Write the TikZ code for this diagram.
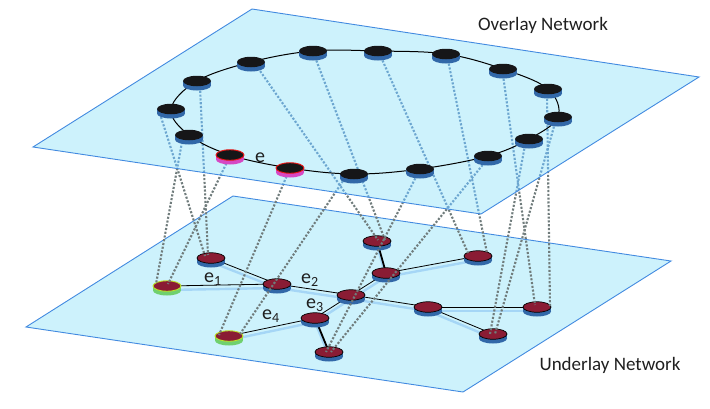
\documentclass[tikz,border=0pt]{standalone}
\usepackage{fontspec}
\setmainfont{Carlito}
\usetikzlibrary{shapes.geometric,calc}
\definecolor{planefill}{RGB}{205,242,252}
\definecolor{planeedge}{RGB}{66,138,224}
\definecolor{linkgray}{RGB}{112,124,124}
\definecolor{linkblue}{RGB}{108,166,208}
\definecolor{topblack}{RGB}{22,22,24}
\definecolor{sideblue}{RGB}{50,104,168}
\definecolor{maroon}{RGB}{138,28,52}
\definecolor{sidemag}{RGB}{214,72,196}
\definecolor{ringred}{RGB}{235,20,20}
\definecolor{sidegreen}{RGB}{112,208,110}
\definecolor{ringgreen}{RGB}{186,228,40}
\definecolor{edgeshadow}{RGB}{165,214,246}
\newcommand\disk[4]{%
  \fill[#3] ($(#2)+(-14,0)$) rectangle ($(#2)+(14,4.5)$);
  \fill[#3] ($(#2)+(0,4.5)$) ellipse [x radius=14pt, y radius=5pt];
  \node[disktop,#4] (#1) at (#2) {};
}
\newcommand\linklines{%
  \draw[link] ($(u3)+(3,6)$) -- ($(l1)+(-3,-3)$);
  \draw[link] ($(u4)+(-10,8)$) -- ($(l1)+(-6,-2)$);
  \draw[link] ($(u5)+(-7,7)$) -- ($(l2)+(-11,-2)$);
  \draw[link] ($(u6)+(-2,5)$) -- ($(l2)+(1,-2)$);
  \draw[link] ($(u7)+(-2,5)$) -- ($(l6)+(-10,-1)$);
  \draw[link] ($(u8)+(-9,4)$) -- ($(l6)+(11,-2)$);
  \draw[link] ($(u2)+(7,6)$) -- ($(l8)+(1,-1)$);
  \draw[link] ($(u1)+(2,6)$) -- ($(l8)+(8,-1)$);
  \draw[link] ($(u16)+(3,6)$) -- ($(l10)+(-10,-3)$);
  \draw[link] ($(u15)+(2,6)$) -- ($(l10)+(9,-3)$);
  \draw[link] ($(u14)+(0,6)$) -- ($(l12)+(-2,-2)$);
  \draw[link] ($(u13)+(-1,6)$) -- ($(l12)+(13,-1)$);
  \draw[link] ($(u12)+(-3,6)$) -- ($(l13)+(2,0)$);
  \draw[link] ($(u11)+(-4,6)$) -- ($(l13)+(-3,0)$);
  \draw[link] ($(u10)+(-3,6)$) -- ($(l7)+(2,0)$);
  \draw[link] ($(u9)+(-3,6)$) -- ($(l7)+(-3,0)$);
}
\tikzset{
  disktop/.style={ellipse, minimum width=28pt, minimum height=10.5pt, inner sep=0pt},
  overtop/.style={fill=topblack},
  redtop/.style={fill=topblack, draw=ringred, line width=0.9pt},
  undertop/.style={fill=maroon, draw=black, line width=0.7pt},
  greentop/.style={fill=maroon, draw=ringgreen, line width=0.9pt},
  plane/.style={fill=planefill, draw=planeedge, line width=0.9pt},
  link/.style={draw=linkgray, line width=2.1pt, dash pattern=on 2.1pt off 1.7pt},
  ring/.style={draw=black, line width=1pt},
  uedge/.style={draw=black, line width=0.8pt},
  thickedge/.style={draw=black, line width=1.8pt},
  eshadow/.style={draw=edgeshadow, line width=2.4pt},
  lab/.style={inner sep=0pt, font=\fontsize{20}{22}\selectfont, text=black!88},
  title/.style={inner sep=0pt, font=\fontsize{19}{22}\selectfont, text=black!88}
}
\begin{document}
\begin{tikzpicture}[x=1pt,y=-1pt]
\useasboundingbox (0,0) rectangle (710,408);
% coordinates of the overlay ring
\coordinate (u1) at (313,51);
\coordinate (u2) at (251,62);
\coordinate (u3) at (197,81);
\coordinate (u4) at (171,109);
\coordinate (u5) at (189,135);
\coordinate (u6) at (230,155);
\coordinate (u7) at (290,168);
\coordinate (u8) at (354,174);
\coordinate (u9) at (420,169);
\coordinate (u10) at (488,156);
\coordinate (u11) at (529,139);
\coordinate (u12) at (558,117);
\coordinate (u13) at (548,89);
\coordinate (u14) at (503,69);
\coordinate (u15) at (446,54);
\coordinate (u16) at (378,51);
% coordinates of the underlay network
\coordinate (l1) at (211,258);
\coordinate (l2) at (167,286);
\coordinate (l3) at (277,284);
\coordinate (l4) at (351,295);
\coordinate (l5) at (315,318);
\coordinate (l6) at (229,336);
\coordinate (l7) at (329,352);
\coordinate (l8) at (377,241);
\coordinate (l9) at (386,273);
\coordinate (l10) at (478,256);
\coordinate (l11) at (428,307);
\coordinate (l12) at (537,307);
\coordinate (l13) at (493,334);

% lower plane
\path[plane] (26,327) -- (233,196) -- (671,261) -- (463,392) -- cycle;
% edge shadows
\foreach \a/\b in {l1/l3,l2/l3,l3/l4,l4/l5,l6/l5,l5/l7,l8/l9,l9/l10,l9/l4,l4/l11,l11/l12,l11/l13}
  \draw[eshadow] ($(\a)+(0,4)$) -- ($(\b)+(0,4)$);
% underlay edges
\draw[uedge] (l1) -- (l3);
\draw[uedge] (l2) -- (l3);
\draw[uedge] (l3) -- (l4);
\draw[uedge] (l4) -- (l5);
\draw[uedge] (l6) -- (l5);
\draw[thickedge] (l5) -- (l7);
\draw[thickedge] (l8) -- (l9);
\draw[uedge] (l9) -- (l10);
\draw[uedge] (l9) -- (l4);
\draw[uedge] (l4) -- (l11);
\draw[uedge] (l11) -- (l12);
\draw[uedge] (l11) -- (l13);
% underlay nodes
\disk{m1}{l1}{sideblue}{undertop}
\disk{m2}{l2}{sidegreen}{greentop}
\disk{m3}{l3}{sideblue}{undertop}
\disk{m4}{l4}{sideblue}{undertop}
\disk{m5}{l5}{sideblue}{undertop}
\disk{m6}{l6}{sidegreen}{greentop}
\disk{m7}{l7}{sideblue}{undertop}
\disk{m8}{l8}{sideblue}{undertop}
\disk{m9}{l9}{sideblue}{undertop}
\disk{m10}{l10}{sideblue}{undertop}
\disk{m11}{l11}{sideblue}{undertop}
\disk{m12}{l12}{sideblue}{undertop}
\disk{m13}{l13}{sideblue}{undertop}
% mapping links (gray)
\linklines
% upper plane
\path[fill=planefill] (33,147) -- (252,9) -- (699,77) -- (481,214) -- cycle;
\begin{scope}[link/.style={draw=linkblue, line width=2.1pt, dash pattern=on 2.1pt off 1.7pt}]
  \clip (33,147) -- (252,9) -- (699,77) -- (481,214) -- cycle;
  \linklines
\end{scope}
\path[draw=planeedge, line width=0.9pt] (33,147) -- (252,9) -- (699,77) -- (481,214) -- cycle;
% ring
\draw[ring] plot[smooth cycle, tension=0.6] coordinates {(u1) (u16) (u15) (u14) (u13) (u12) (u11) (u10) (u9) (u8) (u7) (u6) (u5) (u4) (u3) (u2)};
% overlay nodes
\disk{n1}{u1}{sideblue}{overtop}
\disk{n2}{u2}{sideblue}{overtop}
\disk{n3}{u3}{sideblue}{overtop}
\disk{n4}{u4}{sideblue}{overtop}
\disk{n5}{u5}{sideblue}{overtop}
\disk{n6}{u6}{sidemag}{redtop}
\disk{n7}{u7}{sidemag}{redtop}
\disk{n8}{u8}{sideblue}{overtop}
\disk{n9}{u9}{sideblue}{overtop}
\disk{n10}{u10}{sideblue}{overtop}
\disk{n11}{u11}{sideblue}{overtop}
\disk{n12}{u12}{sideblue}{overtop}
\disk{n13}{u13}{sideblue}{overtop}
\disk{n14}{u14}{sideblue}{overtop}
\disk{n15}{u15}{sideblue}{overtop}
\disk{n16}{u16}{sideblue}{overtop}
% labels
\node[lab] (le) at (260,158) {e};
\node[lab] (le1) at (213,279) {e\textsubscript{1}};
\node[lab] (le2) at (310,280) {e\textsubscript{2}};
\node[lab] (le3) at (315,305) {e\textsubscript{3}};
\node[lab] (le4) at (271,316) {e\textsubscript{4}};
\node[title] (tover) at (543,25) {Overlay Network};
\node[title] (tunder) at (610,365) {Underlay Network};
\end{tikzpicture}
\end{document}
